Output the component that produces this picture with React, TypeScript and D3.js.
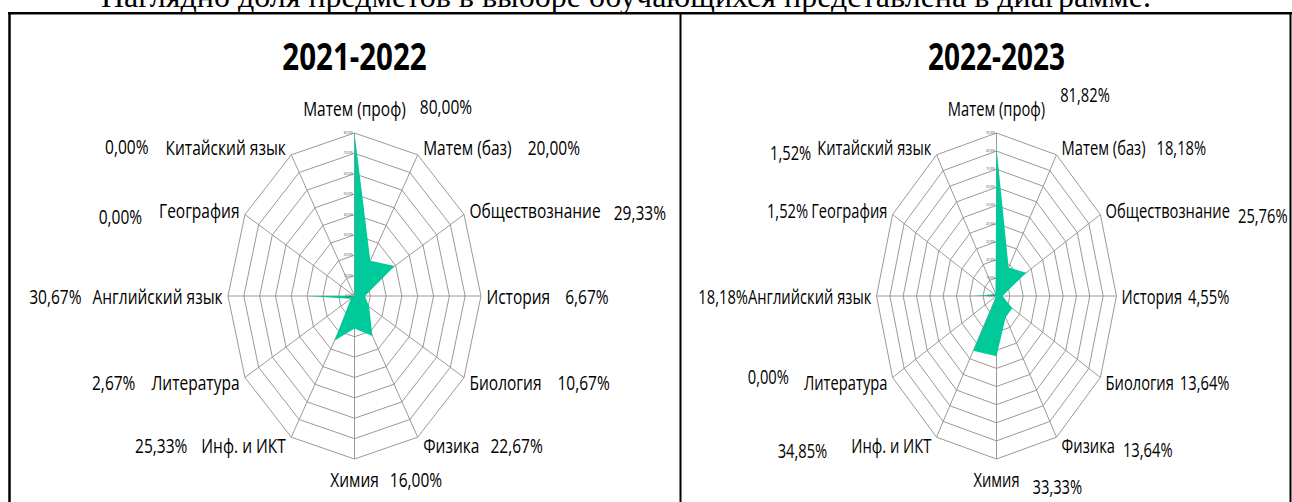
import React, { useEffect, useRef } from "react";
import * as d3 from "d3";

const headerText = "Наглядно доля предметов в выборе обучающихся представлена в диаграмме.";

const categories = [
  "Матем (проф)",
  "Матем (баз)",
  "Обществознание",
  "История",
  "Биология",
  "Физика",
  "Химия",
  "Инф. и ИКТ",
  "Литература",
  "Английский язык",
  "География",
  "Китайский язык",
];

const titles = ["2021-2022", "2022-2023"];
const values2021 = [80.0, 20.0, 29.33, 6.67, 10.67, 22.67, 16.0, 25.33, 2.67, 30.67, 0.0, 0.0];
const values2022 = [81.82, 18.18, 25.76, 4.55, 13.64, 13.64, 33.33, 34.85, 0.0, 18.18, 1.52, 1.52];
const axisMax = [80, 90];
const ringStep = 10;

// layout tweaks (page px) for the value labels
const valueGap2021 = [14, 16, 13, 15, 16, 11, 11, 14, 16, 11, 17, 17];
const valueDy2021 = [-2, 0, 2, 0, 0, 0, 0, 0, 0, 0, 6, -1];
const valueGap2022 = [15, 11, 8, 6, 6, 8, 13, 24, 15, 0, 3, 6];
const valueDy2022 = [-14, 0, 5, 0, 0, 4, 7, 5, -6, 0, 0, 5];

const W = 1292;
const H = 502;
const CY = 296;
const R = 163;
const TEAL = "#00C99A";
const GRID = "#9a9a9a";
const FONT = "'Open Sans', sans-serif";
const LABEL_SIZE = 20;

const fmt = (v: number) => d3.format(".2f")(v).replace(".", ",") + "%";

export default function App() {
  const ref = useRef<SVGSVGElement>(null);

  useEffect(() => {
    const svg = d3.select(ref.current);
    svg.selectAll("*").remove();

    svg.append("rect").attr("width", W).attr("height", H).attr("fill", "#fff");

    svg
      .append("text")
      .attr("x", 101)
      .attr("y", 7)
      .attr("font-family", "'Liberation Serif', 'Times New Roman', serif")
      .attr("font-size", 32)
      .attr("fill", "#000")
      .text(headerText);

    // table borders
    const border = svg.append("g").attr("stroke", "#000");
    border.append("line").attr("x1", 8).attr("x2", 1292).attr("y1", 13.2).attr("y2", 13.2).attr("stroke-width", 2.5);
    border.append("line").attr("x1", 9.5).attr("x2", 9.5).attr("y1", 12).attr("y2", H).attr("stroke-width", 2.5);
    border.append("line").attr("x1", 680.5).attr("x2", 680.5).attr("y1", 12).attr("y2", H).attr("stroke-width", 2);
    border.append("line").attr("x1", 1290.5).attr("x2", 1290.5).attr("y1", 12).attr("y2", H).attr("stroke-width", 2);

    const charts = [
      { cx: 354.5, sx: 0.776, title: titles[0], values: values2021, max: axisMax[0], gaps: valueGap2021, vdy: valueDy2021 },
      { cx: 996.5, sx: 0.736, title: titles[1], values: values2022, max: axisMax[1], gaps: valueGap2022, vdy: valueDy2022 },
    ];

    const N = categories.length;
    const angle = (i: number) => (i * 2 * Math.PI) / N;

    charts.forEach((c) => {
      const g = svg
        .append("g")
        .attr("transform", `translate(${c.cx},${CY}) scale(${c.sx},1)`)
        .attr("font-family", FONT);
      const r = d3.scaleLinear().domain([0, c.max]).range([0, R]);
      const ticks = d3.range(0, c.max + 1e-6, ringStep);
      const radial = d3
        .lineRadial<number>()
        .angle((_, i) => angle(i))
        .radius((d) => r(d))
        .curve(d3.curveLinearClosed);

      // rings
      ticks.slice(1).forEach((t) => {
        g.append("path")
          .attr("d", radial(categories.map(() => t)) as string)
          .attr("fill", "none")
          .attr("stroke", GRID)
          .attr("stroke-width", 1)
          .attr("vector-effect", "non-scaling-stroke");
      });
      // spokes
      categories.forEach((_, i) => {
        const a = angle(i);
        g.append("line")
          .attr("x1", 0)
          .attr("y1", 0)
          .attr("x2", r(c.max) * Math.sin(a))
          .attr("y2", -r(c.max) * Math.cos(a))
          .attr("stroke", GRID)
          .attr("stroke-width", 1)
          .attr("vector-effect", "non-scaling-stroke");
      });

      // data area
      g.append("path").attr("d", radial(c.values) as string).attr("fill", TEAL).attr("stroke", "none");

      // tiny tick labels
      ticks.forEach((t) => {
        g.append("text")
          .attr("x", -2)
          .attr("y", -r(t) + 1)
          .attr("text-anchor", "end")
          .attr("font-size", 3.5)
          .attr("fill", "#404040")
          .text(fmt(t));
      });

      // title
      g.append("text")
        .attr("x", 0)
        .attr("y", -226)
        .attr("text-anchor", "middle")
        .attr("font-size", 38)
        .attr("font-weight", 700)
        .attr("fill", "#000")
        .text(c.title);

      // category + value labels
      categories.forEach((name, i) => {
        const a = angle(i);
        const s = Math.sin(a);
        const co = Math.cos(a);
        const gap = c.gaps[i] / c.sx;
        const valText = fmt(c.values[i]);
        if (Math.abs(s) < 0.01) {
          const y = co > 0 ? -R - 17 : R + 28;
          const lab = g
            .append("text")
            .attr("x", 0)
            .attr("y", y)
            .attr("text-anchor", "middle")
            .attr("font-size", LABEL_SIZE)
            .attr("fill", "#000")
            .text(name);
          const w = (lab.node() as SVGTextElement).getComputedTextLength();
          g.append("text")
            .attr("x", w / 2 + gap)
            .attr("y", y + c.vdy[i])
            .attr("font-size", LABEL_SIZE)
            .attr("fill", "#000")
            .text(valText);
        } else {
          const x = R * s + Math.sign(s) * 7;
          const y = -(R + 9) * co + 8;
          const anchor = s > 0 ? "start" : "end";
          const lab = g
            .append("text")
            .attr("x", x)
            .attr("y", y)
            .attr("text-anchor", anchor)
            .attr("font-size", LABEL_SIZE)
            .attr("fill", "#000")
            .text(name);
          const w = (lab.node() as SVGTextElement).getComputedTextLength();
          g.append("text")
            .attr("x", s > 0 ? x + w + gap : x - w - gap)
            .attr("y", y + c.vdy[i])
            .attr("text-anchor", anchor)
            .attr("font-size", LABEL_SIZE)
            .attr("fill", "#000")
            .text(valText);
        }
      });
    });
  }, []);

  return (
    <svg
      ref={ref}
      width={W}
      height={H}
      style={{ position: "absolute", left: 0, top: 0, display: "block" }}
    />
  );
}
